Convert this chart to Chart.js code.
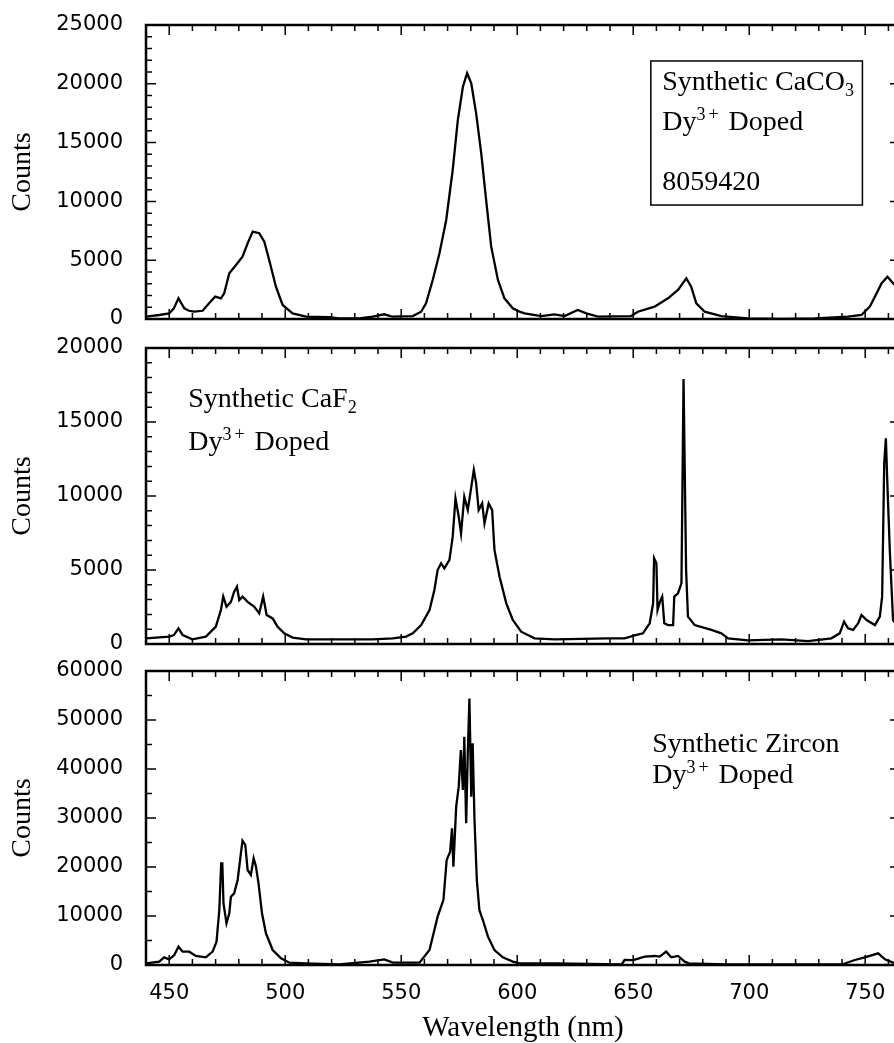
<!DOCTYPE html>
<html>
<head>
<meta charset="utf-8">
<script src="https://cdn.jsdelivr.net/npm/chart.js@4.4.1/dist/chart.umd.min.js"></script>
<style>
  html, body { margin: 0; padding: 0; background: #fff; overflow: hidden; }
  #wrap { position: relative; width: 894px; height: 1043px; overflow: hidden; }
  canvas { position: absolute; left: 0; }
</style>
</head>
<body>
<div id="wrap">
  <canvas id="caco3" width="910" height="333" style="top:0"></canvas>
  <canvas id="caf2" width="910" height="325" style="top:333px"></canvas>
  <canvas id="zircon" width="910" height="385" style="top:658px"></canvas>
</div>
<script>
const xTicks = [450, 500, 550, 600, 650, 700, 750];

// Synthetic CaCO3, Dy3+ doped
const caco3Wavelength = [440, 445.7, 450, 452, 454, 456.5, 458.5, 460.8, 464.4, 467.2, 469.8, 472.3, 473.7, 475.9, 478.8,
  481.6, 483.8, 486, 488.8, 491, 493.1, 496, 498.9, 503.2, 509, 519, 523.3, 532, 537.7, 542.7, 546, 555, 558.6, 560.7,
  563.6, 566.5, 569.4, 572.2, 574.4, 576.6, 578.4, 580.2, 582.3, 584.5, 586.6, 588.8, 591.7, 594.5, 598.1, 601, 603.2,
  610.4, 616.1, 620.4, 626.1, 629.8, 634.8, 649.1, 652, 659.2, 665, 669.3, 672.9, 675, 677.2, 680.8, 688, 699.5, 713.9,
  728.3, 742.6, 748.4, 752, 754.9, 757.1, 759.6, 762, 765];
const caco3Counts = [200, 340, 480, 900, 1760, 910, 700, 620, 700, 1330, 1900, 1760, 2180, 3890, 4590,
  5300, 6430, 7430, 7300, 6570, 5020, 2750, 1190, 480, 200, 150, 50, 50, 200, 400, 200, 250, 620, 1330,
  3320, 5590, 8420, 12670, 16920, 19750, 20900, 20040, 17490, 14090, 10120, 6150, 3320, 1760, 910, 620, 480,
  250, 400, 250, 770, 480, 200, 250, 620, 1050, 1760, 2470, 3460, 2750, 1330, 620, 250, 50, 0,
  50, 200, 340, 1050, 2180, 3040, 3600, 3040, 2500];

// Synthetic CaF2, Dy3+ doped
const caf2Wavelength = [440, 450, 452, 454, 455.8, 460, 465.8, 470.1, 472.3, 473.3, 474.7, 476.6, 478, 479.2, 480.2,
  481.6, 483.8, 486.7, 488.8, 490.5, 492, 494.6, 496.7, 499.6, 503.2, 509, 523.3, 537.7, 546.4, 552.1, 555, 558.6,
  562.2, 564.3, 565.7, 567.2, 568.6, 570.8, 572.2, 573.4, 574.8, 575.8, 577.2, 578.7, 579.8, 581.3, 582.3, 583.4,
  584.9, 585.9, 587.7, 589.2, 590.2, 592.4, 595.3, 598.1, 601.7, 607.5, 616.1, 639.1, 646.3, 650.6, 654.2, 657.1,
  658.6, 659, 660, 660.5, 661.5, 662.5, 663.4, 665, 667.2, 667.7, 669.3, 670.8, 671.7, 672.8, 673.6, 676.5,
  683.7, 688, 690.9, 699.5, 713.9, 725.4, 735.4, 739, 740.9, 742.6, 744.8, 747, 748.4, 750.6, 754.2, 756.3, 757.3,
  758.2, 758.9, 759.6, 760.6, 762, 765];
const caf2Counts = [385, 500, 600, 1060, 600, 315, 500, 1170, 2300, 3200, 2520, 2850, 3530, 3870, 2970,
  3200, 2850, 2520, 2070, 3200, 1960, 1730, 1170, 720, 430, 315, 315, 315, 385, 500, 720, 1280,
  2300, 3650, 5000, 5450, 5110, 5680, 7250, 9840, 8600, 7480, 9950, 9050, 10180, 11760, 10870, 9050,
  9500, 8150, 9500, 9050, 6350, 4550, 2750, 1620, 830, 385, 315, 385, 385, 580, 720, 1400,
  2750, 5790, 5450, 2300, 2850, 3200, 1400, 1280, 1280, 3200, 3430, 4100, 17900, 5000, 1850, 1280,
  950, 720, 385, 250, 315, 200, 385, 720, 1510, 1060, 950, 1400, 1960, 1620, 1280, 1850, 3200,
  12210, 13900, 10630, 6350, 1620, 1000];

// Synthetic zircon, Dy3+ doped
const zirconWavelength = [440, 445.7, 447.8, 450, 452.2, 454, 455.8, 458.6, 461.5, 465.8, 468.7, 470.4, 471.6, 472.4,
  472.9, 473.4, 474.7, 475.9, 476.6, 478, 479.5, 480.9, 481.6, 482.8, 483.8, 485.2, 486.4, 487.4, 488.5, 490, 491.7,
  494.6, 498.2, 501.8, 509, 523.3, 536.3, 542.7, 546.4, 557.9, 562.2, 565.7, 568.2, 569.6, 571.1, 571.9, 572.5, 573.7,
  574.8, 575.7, 576.6, 577.2, 578, 578.7, 579.4, 580.2, 580.8, 581.6, 582.6, 583.7, 585.2, 587.4, 590.2, 593.8, 598.1,
  601, 617, 645, 646.3, 650, 655, 659.2, 661.4, 664.2, 666.4, 669.3, 672.2, 674, 690, 720, 740, 745.5, 749.8, 755.6,
  758.5, 762, 765];
const zirconCounts = [340, 680, 1560, 1150, 2040, 3740, 2720, 2720, 1840, 1560, 2720, 4760, 11220, 20760,
  20760, 12590, 8510, 10550, 13940, 14620, 17350, 22800, 25370, 24500, 19390, 18370, 21770, 20080, 16670, 10550, 6470,
  3060, 1360, 480, 340, 100, 680, 1150, 480, 480, 3060, 9860, 13270, 21430, 23130, 27900, 20080, 32310,
  36390, 43880, 35710, 46600, 28920, 43200, 54400, 34350, 45250, 29600, 17350, 11220, 9180, 5780, 3060, 1560, 680,
  340, 340, 100, 1020, 1000, 1700, 1840, 1700, 2720, 1560, 1840, 680, 340, 100, 100, 100, 1020, 1560, 2380,
  1150, 480, 400];

Chart.defaults.font.family = "'DejaVu Sans', sans-serif";
Chart.defaults.font.size = 21;
Chart.defaults.color = "#000";

// frame round the plot area with inward ticks on all four sides
const frameTicks = {
  id: "frameTicks",
  afterDatasetsDraw(chart, args, opts) {
    const { ctx, chartArea: a, scales: { x, y } } = chart;
    ctx.save();
    ctx.strokeStyle = "#000";
    ctx.lineWidth = 1.5;
    ctx.beginPath();
    for (let v = Math.ceil(x.min / opts.xMinor) * opts.xMinor; v <= x.max; v += opts.xMinor) {
      const px = x.getPixelForValue(v);
      const len = v % opts.xMajor === 0 ? 10 : 6;
      ctx.moveTo(px, a.top);
      ctx.lineTo(px, a.top + len);
      ctx.moveTo(px, a.bottom);
      ctx.lineTo(px, a.bottom - len);
    }
    for (let v = y.min; v <= y.max; v += opts.yMinor) {
      const py = y.getPixelForValue(v);
      const len = v % opts.yMajor === 0 ? 10 : 6;
      ctx.moveTo(a.left, py);
      ctx.lineTo(a.left + len, py);
      ctx.moveTo(a.right, py);
      ctx.lineTo(a.right - len, py);
    }
    ctx.stroke();
    ctx.lineWidth = 2.5;
    ctx.strokeRect(a.left, a.top, a.right - a.left, a.bottom - a.top);
    ctx.restore();
  },
};

// sample labels, placed in data coordinates
const notes = {
  id: "notes",
  afterDatasetsDraw(chart, args, opts) {
    const { ctx, scales: { x, y } } = chart;
    ctx.save();
    ctx.fillStyle = "#000";
    ctx.textBaseline = "alphabetic";
    ctx.textAlign = "left";
    for (const line of opts.lines || []) {
      let px = x.getPixelForValue(line.x);
      const py = y.getPixelForValue(line.y);
      for (const [text, kind] of line.parts) {
        const small = kind === "sub" || kind === "sup";
        ctx.font = `${small ? 18 : 28}px 'Liberation Serif', serif`;
        const dy = kind === "sub" ? 6 : kind === "sup" ? -10 : 0;
        ctx.fillText(text, px, py + dy);
        px += ctx.measureText(text).width + (kind === "sup" ? 3 : 0);
      }
    }
    if (opts.box) {
      const b = opts.box;
      const l = x.getPixelForValue(b.x0), r = x.getPixelForValue(b.x1);
      const t = y.getPixelForValue(b.y1), btm = y.getPixelForValue(b.y0);
      ctx.strokeStyle = "#000";
      ctx.lineWidth = 1.5;
      ctx.strokeRect(l, t, r - l, btm - t);
    }
    ctx.restore();
  },
};

// invisible tick marks, used only to keep labels away from the frame
const hiddenGrid = (len) => ({
  display: true,
  drawOnChartArea: false,
  drawTicks: true,
  tickLength: len,
  color: "rgba(0,0,0,0)",
});

const makeChart = (id, wl, counts, yMax, yStep, yMinor, padding, showX, noteOpts) => {
  const ctx = document.getElementById(id).getContext("2d");
  return new Chart(ctx, {
    type: "line",
    data: {
      datasets: [
        {
          data: wl.map((w, i) => ({ x: w, y: counts[i] })),
          borderColor: "#000",
          borderWidth: 2.3,
          pointRadius: 0,
          tension: 0,
          fill: false,
        },
      ],
    },
    options: {
      responsive: false,
      animation: false,
      events: [],
      layout: { padding: padding },
      plugins: {
        legend: { display: false },
        tooltip: { enabled: false },
        frameTicks: { xMinor: 10, xMajor: 50, yMinor: yMinor, yMajor: yStep },
        notes: noteOpts,
      },
      scales: {
        x: {
          type: "linear",
          min: 440,
          max: 765,
          display: showX,
          grid: hiddenGrid(16),
          border: { display: false },
          afterBuildTicks: (s) => {
            s.ticks = xTicks.map((v) => ({ value: v }));
          },
          afterFit: (s) => {
            if (showX) s.height = 78;
          },
          ticks: { padding: 0, maxRotation: 0, autoSkip: false, callback: (v) => String(v) },
          title: {
            display: showX,
            text: "Wavelength (nm)",
            font: { family: "'Liberation Serif', serif", size: 29, lineHeight: 1 },
            padding: { top: 0, bottom: 0 },
          },
        },
        y: {
          min: 0,
          max: yMax,
          grid: hiddenGrid(23),
          border: { display: false },
          afterFit: (s) => {
            s.width = 146;
          },
          ticks: { stepSize: yStep, padding: 0, callback: (v) => String(v) },
          title: {
            display: true,
            text: "Counts",
            font: { family: "'Liberation Serif', serif", size: 28, lineHeight: 1 },
            padding: { top: 9, bottom: 0 },
          },
        },
      },
    },
    plugins: [frameTicks, notes],
  });
};

makeChart("caco3", caco3Wavelength, caco3Counts, 25000, 5000, 1000,
  { top: 25, bottom: 14, left: 0, right: 10 }, false, {
    lines: [
      { x: 662.5, y: 19470, parts: [["Synthetic CaCO"], ["3", "sub"]] },
      { x: 662.5, y: 16070, parts: [["Dy"], ["3", "sup"], ["+", "sup"], [" Doped"]] },
      { x: 662.5, y: 10970, parts: [["8059420"]] },
    ],
    box: { x0: 657.6, x1: 748.8, y0: 9690, y1: 21940 },
  });

makeChart("caf2", caf2Wavelength, caf2Counts, 20000, 5000, 1000,
  { top: 15, bottom: 14, left: 0, right: 10 }, false, {
    lines: [
      { x: 458.2, y: 16030, parts: [["Synthetic CaF"], ["2", "sub"]] },
      { x: 458.2, y: 13110, parts: [["Dy"], ["3", "sup"], ["+", "sup"], [" Doped"]] },
    ],
  });

makeChart("zircon", zirconWavelength, zirconCounts, 60000, 10000, 5000,
  { top: 13, bottom: 0, left: 0, right: 10 }, true, {
    lines: [
      { x: 658.2, y: 43530, parts: [["Synthetic Zircon"]] },
      { x: 658.2, y: 37090, parts: [["Dy"], ["3", "sup"], ["+", "sup"], [" Doped"]] },
    ],
  });
</script>
</body>
</html>
